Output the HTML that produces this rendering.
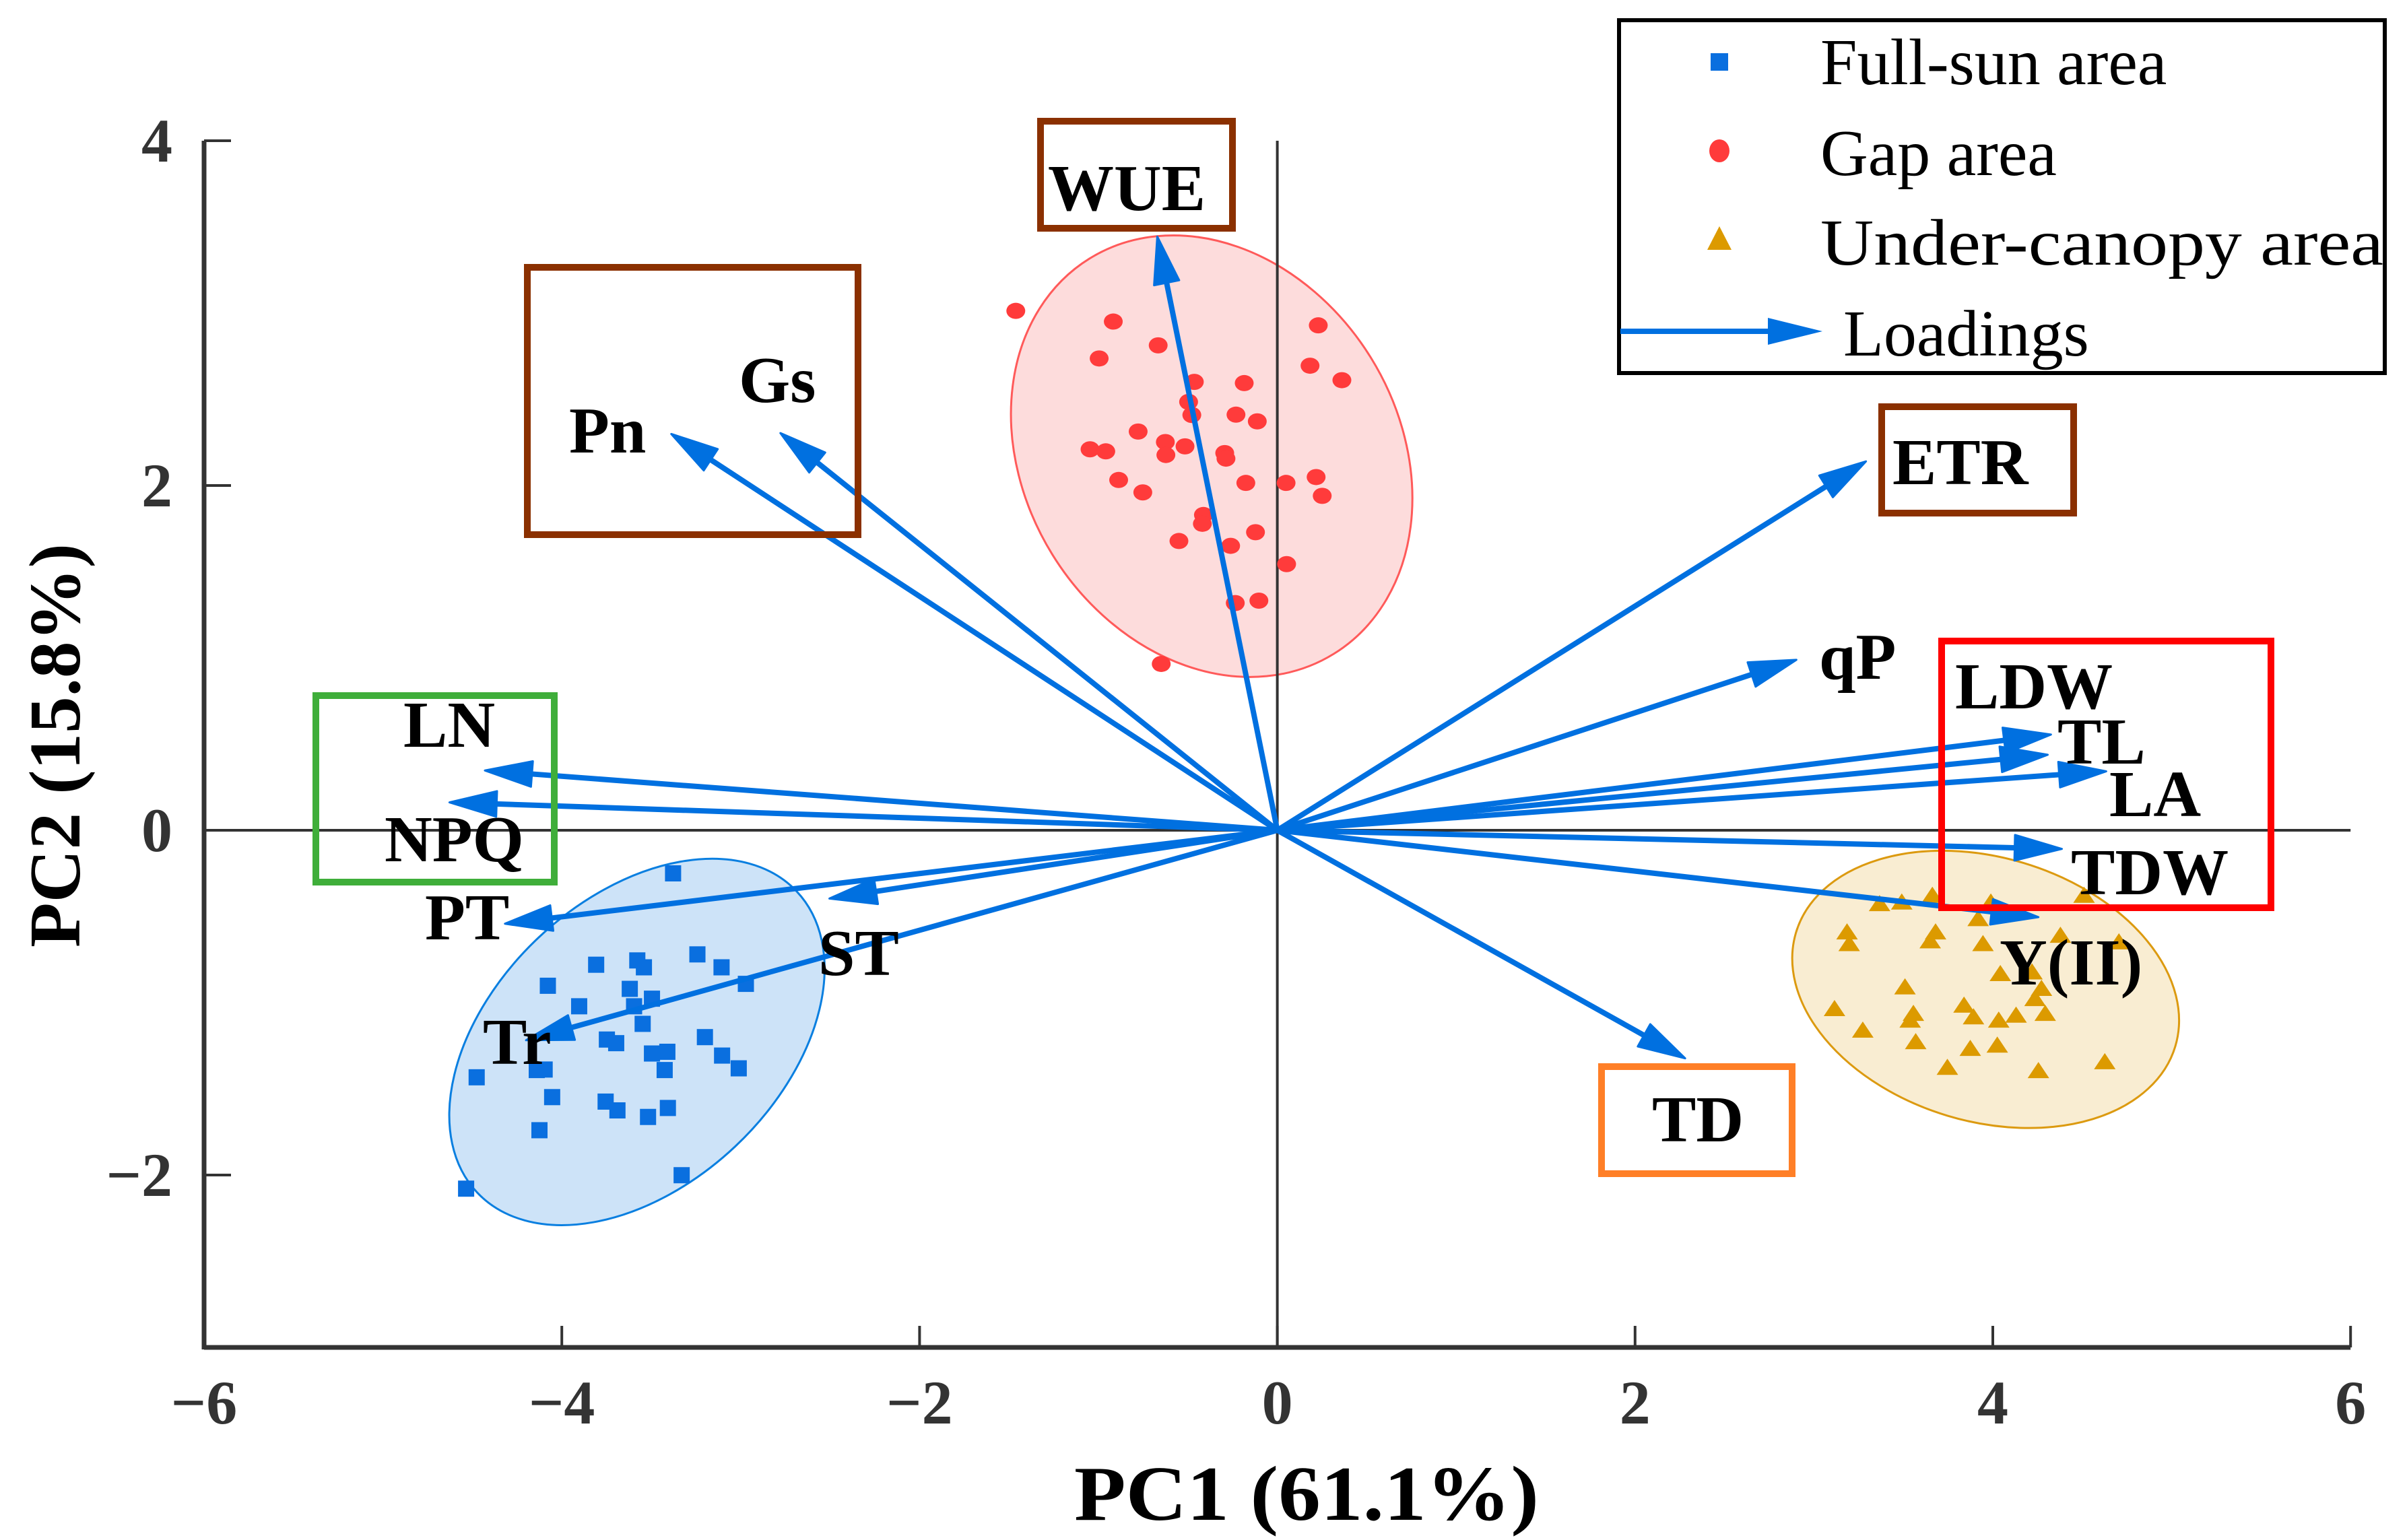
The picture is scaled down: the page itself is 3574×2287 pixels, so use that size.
<!DOCTYPE html>
<html><head><meta charset="utf-8"><style>
html,body{margin:0;padding:0;background:#fff;}
svg{display:block;}
text{font-family:"Liberation Serif","DejaVu Serif",serif;}
.lb{font-weight:bold;font-size:98px;fill:#000;}
.tk{font-weight:bold;font-size:92px;fill:#333;}
.lg{font-size:98px;fill:#000;}
</style></head><body>
<svg id="chart" width="3574" height="2287" viewBox="0 0 3574 2287" xmlns="http://www.w3.org/2000/svg">
<g id="ellipses"></g>
<g id="axes"></g>
<g id="points"></g>
<g id="arrows"></g>
<g id="boxes" fill="none" stroke-width="10">
 <rect x="1545" y="180" width="285" height="159" stroke="#8b3000"/>
 <rect x="783" y="397" width="491" height="397" stroke="#8b3000"/>
 <rect x="2794" y="604" width="285" height="158" stroke="#8b3000"/>
 <rect x="2883" y="952" width="489" height="396" stroke="#ff0000"/>
 <rect x="469" y="1033" width="354" height="277" stroke="#3fae3a"/>
 <rect x="2378" y="1584" width="283" height="159" stroke="#ff7f27"/>
</g>
<g id="labels">
 <text class="lb" x="1556" y="312">WUE</text>
 <text class="lb" x="845" y="672">Pn</text>
 <text class="lb" x="1097" y="597">Gs</text>
 <text class="lb" x="2810" y="719">ETR</text>
 <text class="lb" x="2701" y="1008">qP</text>
 <text class="lb" x="2903" y="1052">LDW</text>
 <text class="lb" x="3055" y="1134">TL</text>
 <text class="lb" x="3132" y="1212">LA</text>
 <text class="lb" x="3075" y="1328">TDW</text>
 <text class="lb" x="2969" y="1462">Y(II)</text>
 <text class="lb" x="599" y="1109">LN</text>
 <text class="lb" x="571" y="1279">NPQ</text>
 <text class="lb" x="631" y="1395">PT</text>
 <text class="lb" x="1215" y="1448">ST</text>
 <text class="lb" x="717" y="1580">Tr</text>
 <text class="lb" x="2453" y="1695">TD</text>
</g>
<g id="legend">
 <rect x="2404" y="30" width="1137" height="524" fill="#fff" stroke="#000" stroke-width="6"/>
 <rect x="2540" y="79" width="26" height="26" fill="#0a6fdf"/>
 <text class="lg" x="2703" y="125">Full-sun area</text>
 <ellipse cx="2553" cy="224" rx="15" ry="17" fill="#ff3b3b"/>
 <text class="lg" x="2703" y="260">Gap area</text>
 <polygon points="2553,336 2571,371 2535,371" fill="#dc9a00"/>
 <text class="lg" x="2703" y="393" textLength="836" lengthAdjust="spacingAndGlyphs">Under-canopy area</text>
 <line x1="2406" y1="492" x2="2640" y2="492" stroke="#0070e0" stroke-width="8"/>
 <polygon points="2706,492 2625,472 2625,512" fill="#0070e0"/>
 <text class="lg" x="2737" y="528">Loadings</text>
</g>
<text x="1940" y="2257" text-anchor="middle" textLength="690" lengthAdjust="spacingAndGlyphs" style="font-weight:bold;font-size:116px;fill:#000">PC1 (61.1%)</text>
<text transform="translate(118,1107) rotate(-90)" text-anchor="middle" textLength="600" lengthAdjust="spacingAndGlyphs" style="font-weight:bold;font-size:108px;fill:#000">PC2 (15.8%)</text>
</svg>
<script>
const xTicks = [-6, -4, -2, 0, 2, 4, 6];
const xTickLabels = ["\u22126", "\u22124", "\u22122", "0", "2", "4", "6"];
const yTicks = [4, 2, 0, -2];
const yTickLabels = ["4", "2", "0", "\u22122"];
const sunX = [-3.378,-3.808,-3.578,-3.541,-3.242,-3.107,-2.971,-4.078,-3.620,-3.496,-3.903,-3.596,-3.548,-3.748,-3.696,-3.200,-3.496,-3.410,-3.104,-3.425,-3.011,-4.140,-4.476,-4.096,-4.054,-3.755,-3.689,-3.518,-3.407,-4.125,-3.330,-4.535];
const sunY = [-0.250,-0.780,-0.755,-0.795,-0.720,-0.795,-0.891,-0.902,-0.920,-0.977,-1.021,-1.021,-1.123,-1.214,-1.235,-1.200,-1.295,-1.285,-1.307,-1.391,-1.381,-1.391,-1.433,-1.388,-1.548,-1.574,-1.625,-1.663,-1.611,-1.740,-2.001,-2.079];
const gapX = [-1.462,-0.917,-0.666,-0.996,0.229,0.183,0.361,-0.464,-0.185,-0.496,-0.478,-0.231,-0.112,-0.778,-1.047,-0.959,-0.626,-0.623,-0.516,-0.294,-0.287,-0.887,-0.752,-0.176,0.049,0.217,0.251,-0.413,-0.419,-0.122,-0.550,-0.261,0.052,-0.235,-0.103,-0.649];
const gapY = [3.013,2.951,2.813,2.737,2.929,2.695,2.611,2.601,2.594,2.485,2.409,2.411,2.372,2.313,2.210,2.198,2.252,2.177,2.227,2.188,2.156,2.032,1.960,2.015,2.015,2.049,1.940,1.829,1.778,1.729,1.678,1.650,1.544,1.318,1.332,0.965];
const underX = [3.367,3.491,3.662,3.918,3.989,4.510,3.185,3.197,3.680,3.650,3.945,4.378,4.705,4.042,4.219,4.272,3.509,3.115,3.556,3.538,3.839,3.892,4.033,4.130,4.236,4.293,3.273,3.569,3.874,4.025,3.746,4.255,4.626];
const underY = [-0.430,-0.421,-0.382,-0.517,-0.421,-0.382,-0.594,-0.662,-0.594,-0.646,-0.662,-0.614,-0.652,-0.836,-0.826,-0.922,-0.913,-1.039,-1.067,-1.106,-1.019,-1.087,-1.106,-1.077,-0.981,-1.067,-1.164,-1.231,-1.270,-1.251,-1.380,-1.399,-1.347];
const loadingNames = ["WUE","Pn","Gs","ETR","qP","LDW","TL","LA","TDW","Y(II)","TD","LN","NPQ","PT","ST","Tr"];
const loadingX = [-0.671,-3.388,-2.778,3.291,2.902,4.325,4.307,4.634,4.386,4.255,2.280,-4.430,-4.628,-4.318,-2.504,-4.200];
const loadingY = [3.444,2.299,2.304,2.140,0.989,0.555,0.438,0.342,-0.108,-0.504,-1.323,0.347,0.162,-0.542,-0.396,-1.218];
const ellipseNames = ["gap","full-sun","under-canopy"];
const ellipseCX = [-0.367,-3.580,3.960];
const ellipseCY = [2.170,-1.228,-0.923];

const NS = "http://www.w3.org/2000/svg";
function sx(v){ return 1896.6 + v*265.6; }
function sy(v){ return 1233 - v*256; }
function mk(tag, attrs, parent){ const e=document.createElementNS(NS,tag); for(const k in attrs) e.setAttribute(k,attrs[k]); parent.appendChild(e); return e; }

const eg = document.getElementById('ellipses');
const eStyle = [
  {rx:345, ry:278, rot:58.3, fill:"#fddcdc", stroke:"#ff5a5a"},
  {rx:326, ry:213, rot:-43.3, fill:"#cde3f8", stroke:"#0a7fe0"},
  {rx:294, ry:196, rot:16.7, fill:"#f9edd2", stroke:"#dc9a10"}
];
ellipseCX.forEach((cx,i)=>{
  const s=eStyle[i], X=sx(cx), Y=sy(ellipseCY[i]);
  const e=mk('ellipse',{cx:X,cy:Y,rx:s.rx,ry:s.ry,transform:`rotate(${s.rot} ${X} ${Y})`,fill:s.fill,stroke:s.stroke,'stroke-width':3},eg);
  
  
});

const ax = document.getElementById('axes');
let l;
l=mk('line',{x1:sx(-6),y1:sy(0),x2:sx(6),y2:sy(0),stroke:'#333','stroke-width':4},ax);


l=mk('line',{x1:sx(0),y1:sy(4),x2:sx(0),y2:sy(-3),stroke:'#333','stroke-width':4},ax);


l=mk('line',{x1:sx(-6),y1:sy(-3),x2:sx(6),y2:sy(-3),stroke:'#333','stroke-width':7},ax);


l=mk('line',{x1:sx(-6),y1:sy(4),x2:sx(-6),y2:sy(-3)+3,stroke:'#333','stroke-width':7},ax);


xTicks.forEach((v,i)=>{
  const t=mk('line',{x1:sx(v),y1:sy(-3),x2:sx(v),y2:sy(-3)-32,stroke:'#333','stroke-width':4},ax);
  
  
  const tx=mk('text',{x:sx(v),y:2114,'text-anchor':'middle',class:'tk'},ax);
  tx.textContent=xTickLabels[i];
  
  
});
yTicks.forEach((v,i)=>{
  const t=mk('line',{x1:sx(-6),y1:sy(v),x2:sx(-6)+40,y2:sy(v),stroke:'#333','stroke-width':4},ax);
  
  
  const tx=mk('text',{x:256,y:sy(v)+31,'text-anchor':'end',class:'tk'},ax);
  tx.textContent=yTickLabels[i];
  
  
});

const pg = document.getElementById('points');
sunX.forEach((v,i)=>{
  const r=mk('rect',{x:sx(v)-12,y:sy(sunY[i])-12,width:24,height:24,fill:'#0a6fdf'},pg);
  
  
});
gapX.forEach((v,i)=>{
  const c=mk('ellipse',{cx:sx(v),cy:sy(gapY[i]),rx:14,ry:12,fill:'#ff3b3b'},pg);
  
  
});
underX.forEach((v,i)=>{
  const X=sx(v), Y=sy(underY[i]);
  const p=mk('polygon',{points:`${X},${Y-14} ${X+16},${Y+10} ${X-16},${Y+10}`,fill:'#dc9a00'},pg);
  
  
});

const ag = document.getElementById('arrows');
const ox=sx(0), oy=sy(0);
loadingX.forEach((v,i)=>{
  const tx=sx(v), ty=sy(loadingY[i]);
  const dx=tx-ox, dy=ty-oy, L=Math.hypot(dx,dy), ux=dx/L, uy=dy/L;
  const hl=70, hw=19;
  const bx=tx-ux*hl, by=ty-uy*hl;
  const ln=mk('line',{x1:ox,y1:oy,x2:bx+ux*5,y2:by+uy*5,stroke:'#0070e0','stroke-width':8,'stroke-linecap':'round'},ag);
  
  
  const hd=mk('polygon',{points:`${tx},${ty} ${bx-uy*hw},${by+ux*hw} ${bx+uy*hw},${by-ux*hw}`,fill:'#0070e0','stroke':'#0070e0','stroke-width':3,'stroke-linejoin':'round'},ag);
  
  
});
</script>
</body></html>
